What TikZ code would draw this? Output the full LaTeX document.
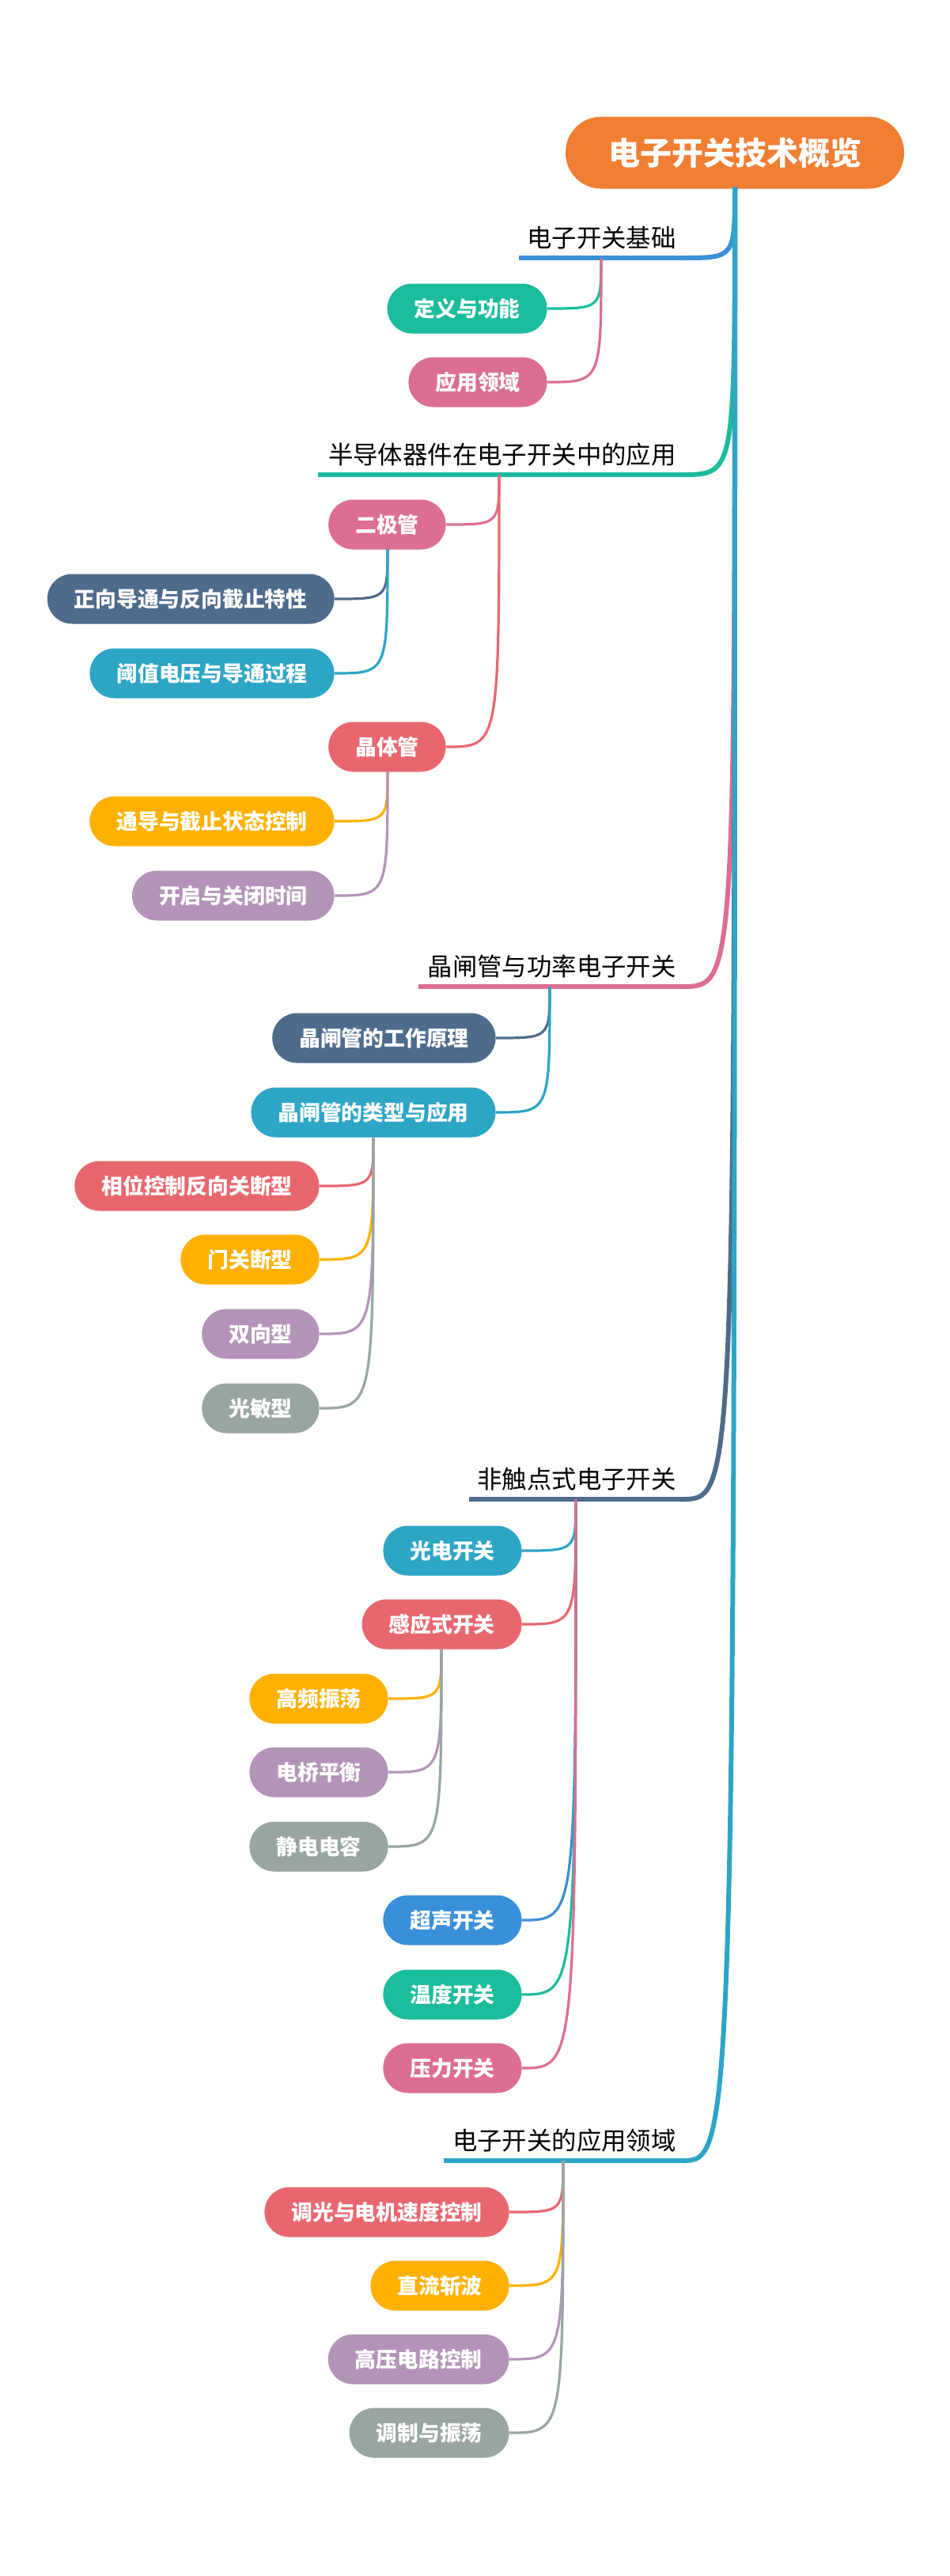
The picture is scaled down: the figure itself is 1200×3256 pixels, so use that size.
\documentclass[tikz,border=0pt]{standalone}
\usepackage{fontspec}
\setmainfont{Noto Sans CJK SC}
\begin{document}
\begin{tikzpicture}[x=0.5pt,y=-0.5pt,
  pill/.style={rounded corners=15.7pt,minimum height=31.5pt,inner xsep=17pt,inner ysep=0pt,text=white,font=\fontsize{13.4}{15}\selectfont\bfseries,anchor=east},
  lone/.style={font=\fontsize{15.7}{18}\selectfont,anchor=base east,text=black,inner sep=0pt},
  conn/.style={line width=1.6pt},
  rconn/.style={line width=3pt}]
\definecolor{cor}{HTML}{F07F33}
\definecolor{cbl}{HTML}{3A8FD9}
\definecolor{ctl}{HTML}{1ABC9C}
\definecolor{cpk}{HTML}{DC6D93}
\definecolor{crd}{HTML}{E8676F}
\definecolor{csl}{HTML}{4E6B8C}
\definecolor{ccy}{HTML}{2DA5C5}
\definecolor{cye}{HTML}{FFB000}
\definecolor{cpu}{HTML}{B394B8}
\definecolor{cgr}{HTML}{98A5A3}
\useasboundingbox (0,0) rectangle (1200,3256);
% root
\node[fill=cor,rounded corners=22.5pt,minimum height=45.5pt,minimum width=214pt,text=white,font=\fontsize{20}{24}\selectfont\bfseries] (root) at (929,193) {电子开关技术概览};
\coordinate (rs) at (929,236);
% level 1
\newcommand\Lone[5]{%
 \draw[line width=3pt,#5] (#2,#3) -- (862,#3);
 \node[lone] (#1) at (855,#3-14) {#4};
 \coordinate (#1e) at (862,#3);
 \draw[rconn,#5] (rs) .. controls (929,#3) .. (#1e);}
\Lone{a}{656}{326}{电子开关基础}{cbl}
\Lone{b}{402}{600}{半导体器件在电子开关中的应用}{ctl}
\Lone{c}{529}{1247}{晶闸管与功率电子开关}{cpk}
\Lone{d}{593}{1895}{非触点式电子开关}{csl}
\Lone{e}{561}{2731}{电子开关的应用领域}{ccy}
% pills: name, right x, center y, text, color, parent x, parent y
\newcommand\Pill[7]{%
 \node[pill,fill=#5] (#1) at (#2,#3) {#4};
 \draw[conn,#5] (#6,#7) .. controls (#6,#3) .. (#1.east);}
\Pill{a1}{692}{390}{定义与功能}{ctl}{760}{326}
\Pill{a2}{692}{483}{应用领域}{cpk}{760}{326}
\Pill{b1}{564}{663}{二极管}{cpk}{631}{600}
\Pill{b11}{423}{757}{正向导通与反向截止特性}{csl}{490}{694}
\Pill{b12}{423}{851}{阈值电压与导通过程}{ccy}{490}{694}
\Pill{b2}{564}{944}{晶体管}{crd}{631}{600}
\Pill{b21}{423}{1038}{通导与截止状态控制}{cye}{490}{975}
\Pill{b22}{423}{1132}{开启与关闭时间}{cpu}{490}{975}
\Pill{c1}{627}{1312}{晶闸管的工作原理}{csl}{695}{1247}
\Pill{c2}{627}{1406}{晶闸管的类型与应用}{ccy}{695}{1247}
\Pill{c21}{404}{1499}{相位控制反向关断型}{crd}{472}{1437}
\Pill{c22}{404}{1592}{门关断型}{cye}{472}{1437}
\Pill{c23}{404}{1686}{双向型}{cpu}{472}{1437}
\Pill{c24}{404}{1780}{光敏型}{cgr}{472}{1437}
\Pill{d1}{660}{1960}{光电开关}{ccy}{728}{1895}
\Pill{d2}{660}{2053}{感应式开关}{crd}{728}{1895}
\Pill{d21}{491}{2147}{高频振荡}{cye}{558}{2084}
\Pill{d22}{491}{2240}{电桥平衡}{cpu}{558}{2084}
\Pill{d23}{491}{2334}{静电电容}{cgr}{558}{2084}
\Pill{d3}{660}{2427}{超声开关}{cbl}{728}{1895}
\Pill{d4}{660}{2521}{温度开关}{ctl}{728}{1895}
\Pill{d5}{660}{2614}{压力开关}{cpk}{728}{1895}
\Pill{e1}{644}{2796}{调光与电机速度控制}{crd}{712}{2731}
\Pill{e2}{644}{2889}{直流斩波}{cye}{712}{2731}
\Pill{e3}{644}{2982}{高压电路控制}{cpu}{712}{2731}
\Pill{e4}{644}{3075}{调制与振荡}{cgr}{712}{2731}
\end{tikzpicture}
\end{document}
